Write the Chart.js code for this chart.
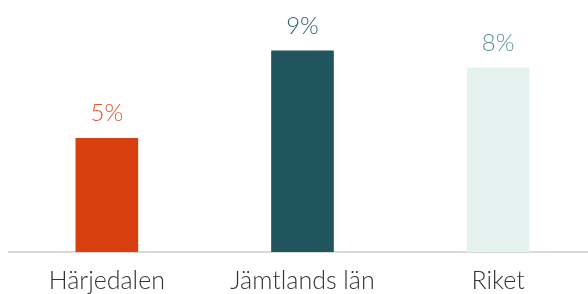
<!DOCTYPE html>
<html>
<head>
<meta charset="utf-8">
<script src="https://cdn.jsdelivr.net/npm/chart.js@4"></script>
<style>
  html, body { margin: 0; padding: 0; background: #fff; overflow: hidden; }
  #wrap { width: 596px; height: 310px; }
</style>
</head>
<body>
<div id="wrap"><canvas id="chart"></canvas></div>
<script>
    'use strict';

    var categories = ['Härjedalen', 'Jämtlands län', 'Riket'];
    var values = [5.0, 8.85, 8.1];
    var valueLabels = ['5%', '9%', '8%'];
    var barColors = ['#d8400f', '#20555e', '#e5f3f0'];
    var labelColors = ['#e0552b', '#2f5f66', '#5f9595'];

    // value labels above each bar
    var topLabels = {
        id: 'topLabels',
        afterDatasetsDraw: function(chart) {
            var ctx = chart.ctx;
            var meta = chart.getDatasetMeta(0);
            ctx.save();
            ctx.font = '300 24px Lato';
            ctx.textAlign = 'center';
            ctx.textBaseline = 'middle';
            meta.data.forEach(function(bar, i) {
                ctx.fillStyle = labelColors[i];
                ctx.fillText(valueLabels[i], bar.x, bar.y - 25);
            });
            ctx.restore();
        }
    };

    new Chart(document.getElementById('chart'), {
        type: 'bar',
        data: {
            labels: categories,
            datasets: [{
                data: values,
                backgroundColor: barColors,
                borderWidth: 0,
                barThickness: 62
            }]
        },
        options: {
            responsive: true,
            maintainAspectRatio: false,
            animation: false,
            layout: {
                padding: { top: 2, left: 9, right: 0, bottom: 0 }
            },
            scales: {
                x: {
                    border: {
                        width: 2,
                        color: '#d9d9d9'
                    },
                    grid: {
                        display: false,
                        drawTicks: false
                    },
                    ticks: {
                        color: '#333333',
                        padding: 16.5,
                        font: { family: 'Lato', size: 25, weight: '300', lineHeight: 1 }
                    }
                },
                y: {
                    display: false,
                    min: 0,
                    max: 11
                }
            },
            plugins: {
                legend: { display: false },
                tooltip: { enabled: false }
            }
        },
        plugins: [topLabels]
    });
</script>
</body>
</html>
